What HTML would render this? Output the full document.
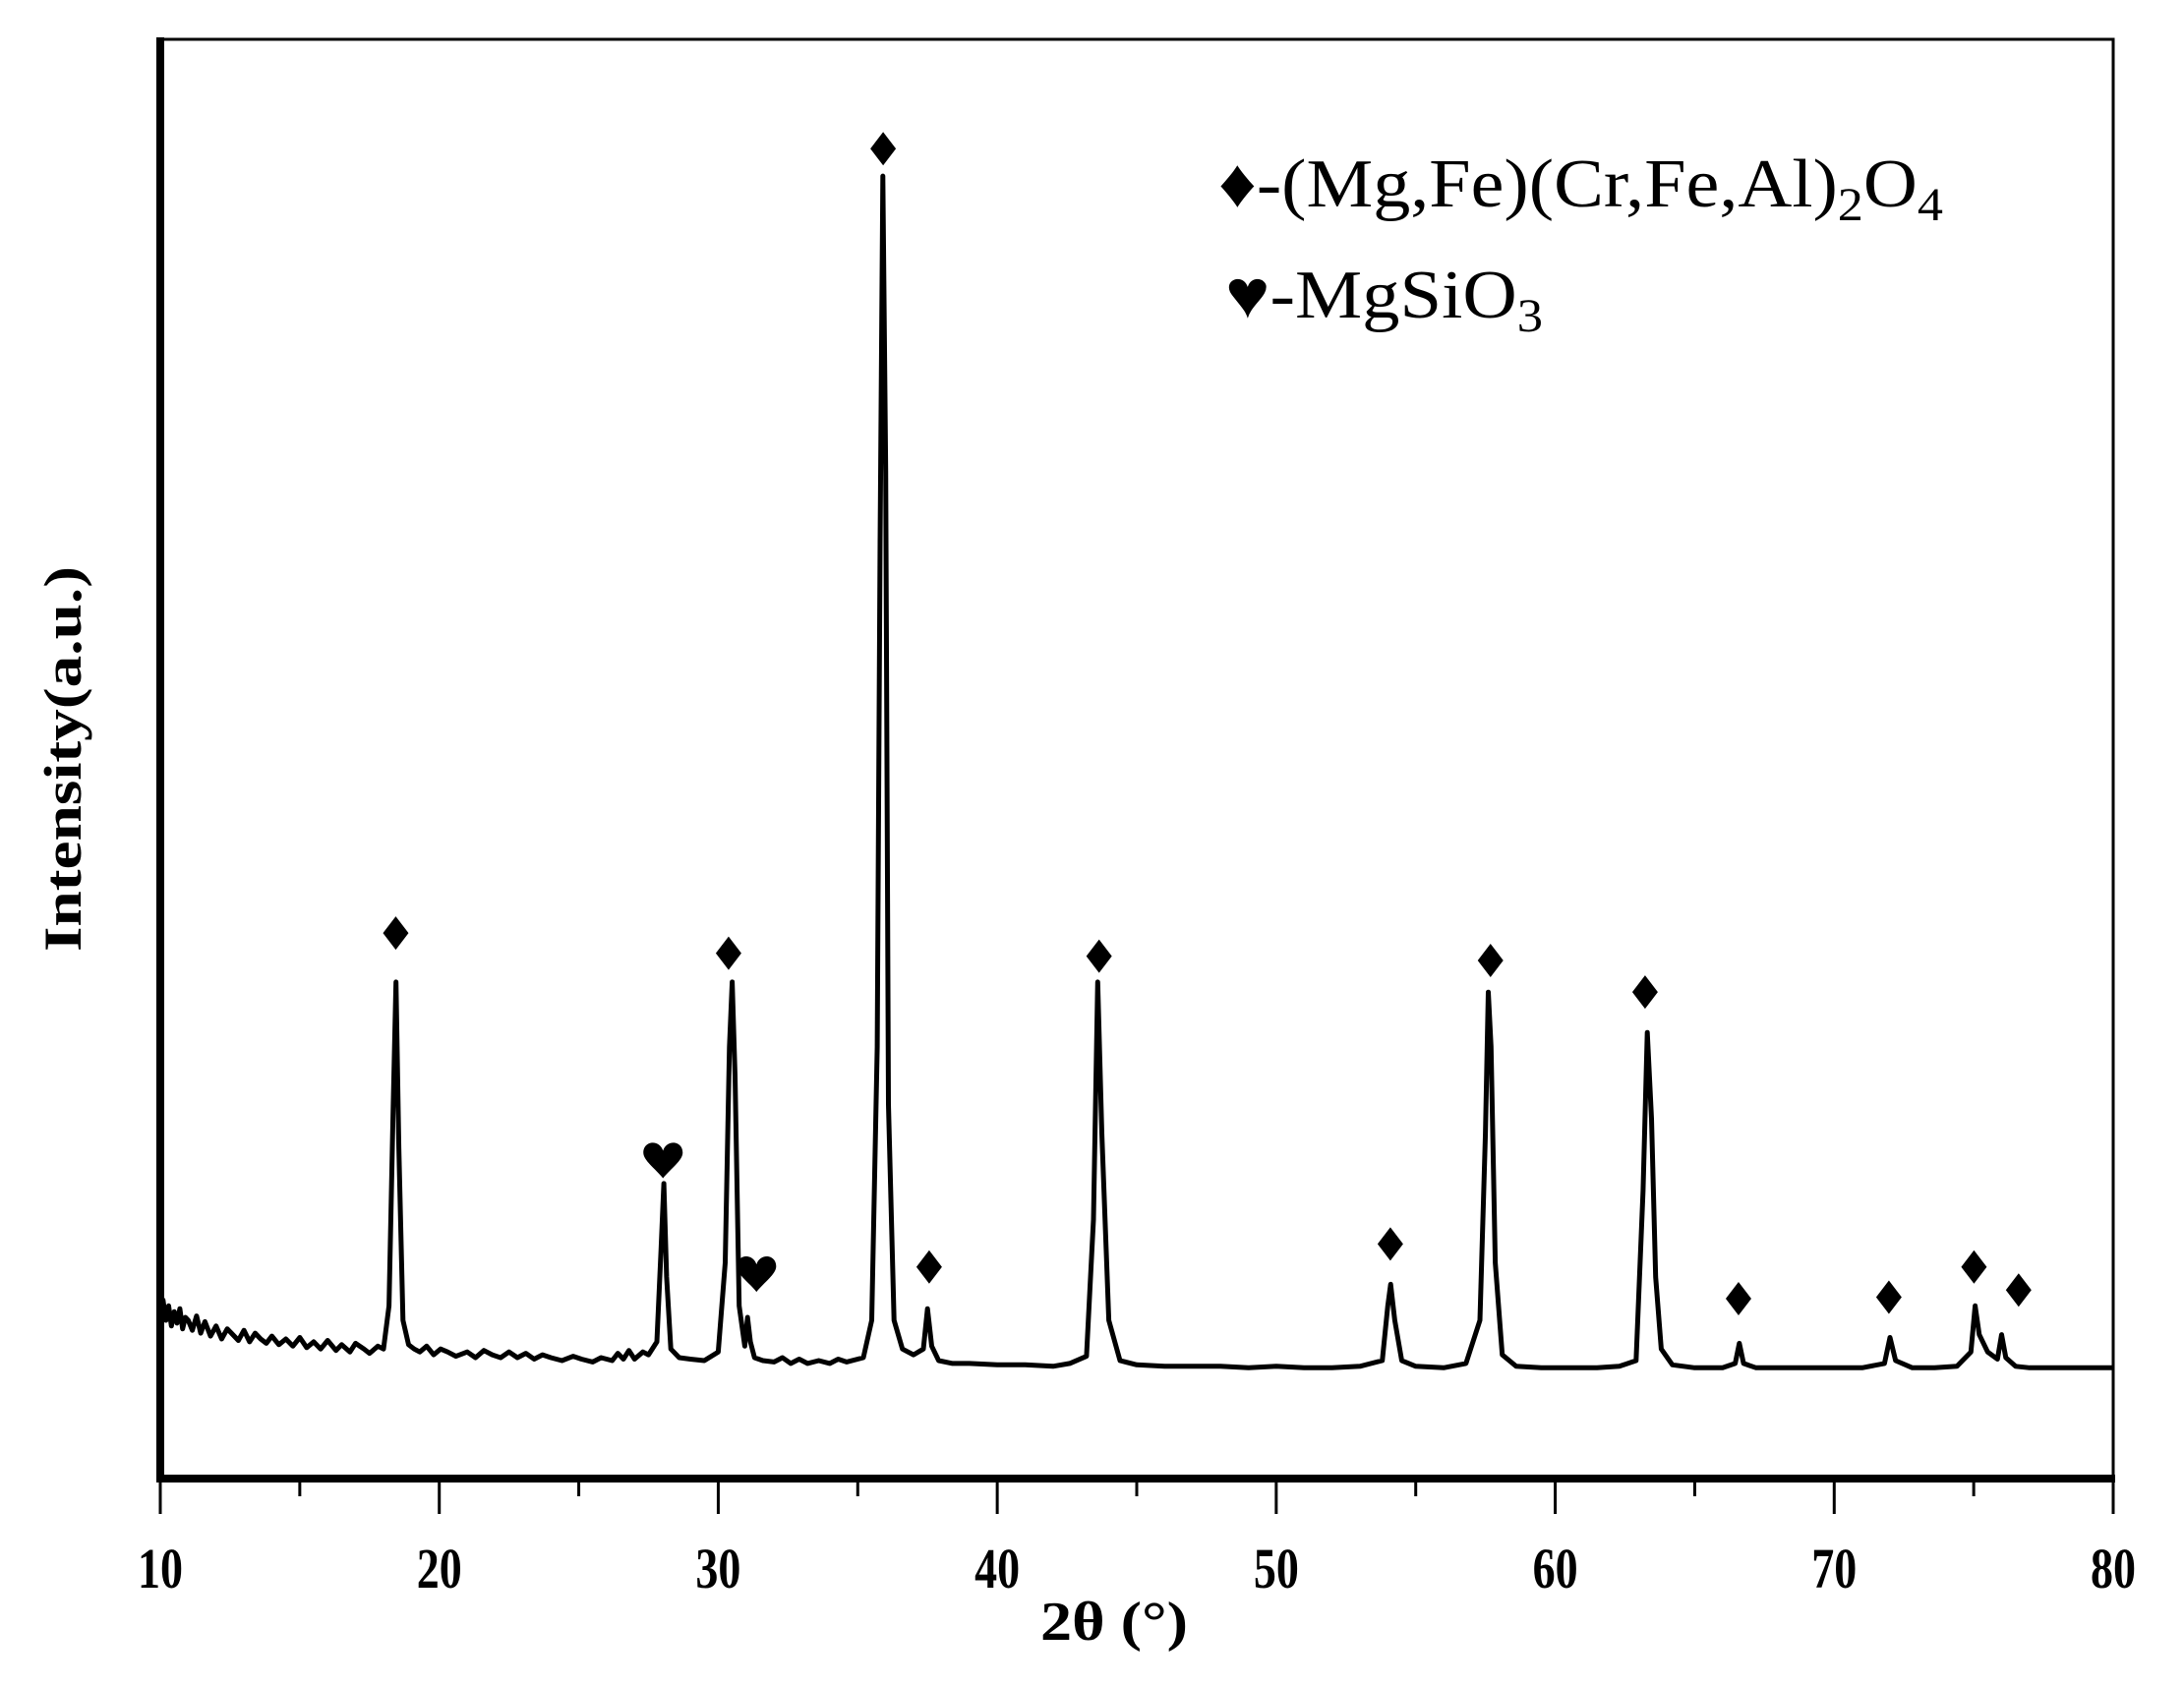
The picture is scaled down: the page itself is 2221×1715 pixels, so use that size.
<!DOCTYPE html>
<html><head><meta charset="utf-8"><style>html,body{margin:0;padding:0;background:#fff}svg{display:block}</style></head>
<body>
<svg id="chart" width="2221" height="1715" viewBox="0 0 2221 1715" xmlns="http://www.w3.org/2000/svg" font-family="Liberation Serif, serif">
<g id="plot"></g>
<g id="axes"></g>
<g id="marks"></g>
<text transform="translate(82,772) rotate(-90)" text-anchor="middle" font-size="54" font-weight="bold" textLength="392" lengthAdjust="spacingAndGlyphs">Intensity(a.u.)</text>
<text x="1133" y="1668" text-anchor="middle" font-size="56" font-weight="bold" textLength="150" lengthAdjust="spacingAndGlyphs">2θ (°)</text>
<g>
<text x="1239" y="210" font-size="70" textLength="737" lengthAdjust="spacingAndGlyphs">♦-(Mg,Fe)(Cr,Fe,Al)<tspan font-size="48" dy="14">2</tspan><tspan dy="-14">O</tspan><tspan font-size="48" dy="14">4</tspan></text>
<text x="1246" y="323" font-size="70" textLength="323" lengthAdjust="spacingAndGlyphs">♥-MgSiO<tspan font-size="48" dy="14">3</tspan></text>
</g>
</svg>
<script>
const xTicks=[10,20,30,40,50,60,70,80];
const traceX=[
10,10.1,10.2,10.3,10.4,10.5,10.6,10.7,10.8,10.9,
11,11.15,11.3,11.45,11.6,11.8,12,12.2,12.4,12.6,
12.8,13,13.2,13.4,13.6,13.8,14,14.25,14.5,14.75,
15,15.25,15.5,15.75,16,16.3,16.5,16.8,17,17.3,
17.5,17.8,18,18.2,18.35,18.45,18.55,18.7,18.9,19.1,
19.3,19.55,19.8,20.05,20.3,20.6,21,21.3,21.6,21.9,
22.2,22.5,22.8,23.1,23.4,23.7,24,24.4,24.8,25.1,
25.5,25.8,26.2,26.4,26.6,26.8,27,27.3,27.5,27.8,
27.95,28.05,28.15,28.3,28.6,29,29.5,30,30.25,30.4,
30.5,30.6,30.75,30.95,31.05,31.15,31.3,31.6,32,32.3,
32.6,32.9,33.2,33.6,34,34.3,34.6,35.2,35.5,35.7,
35.8,35.9,36.0,36.1,36.3,36.6,37,37.35,37.5,37.65,
37.9,38.4,39,40,41,42,42.6,43.2,43.45,43.6,
43.75,44,44.4,45,46,47,48,49,50,51,
52,53,53.8,54.0,54.1,54.25,54.5,55,56,56.8,
57.3,57.5,57.6,57.7,57.85,58.1,58.6,59.5,60.5,61.5,
62.3,62.9,63.15,63.3,63.45,63.6,63.8,64.2,65,66,
66.45,66.6,66.75,67.2,68,69,70,71,71.8,72,
72.2,72.8,73.6,74.4,74.9,75.05,75.2,75.5,75.85,76.0,
76.15,76.5,77,78,79,80];
const traceI=[
113,124,110,120,106,116,108,118,104,112,
110,103,113,101,109,99,106,97,104,100,
96,103,95,101,97,94,99,93,97,92,
98,91,95,90,96,89,93,88,94,90,
87,92,90,120,260,345,230,110,93,90,
88,92,86,90,88,85,88,84,89,86,
84,88,84,87,83,86,84,82,85,83,
81,84,82,87,83,89,83,88,86,95,
160,205,140,90,84,83,82,88,150,300,
345,280,120,92,112,95,84,82,81,84,
80,83,80,82,80,83,81,84,110,300,
650,905,700,260,110,90,86,90,118,92,
82,80,80,79,79,78,80,85,180,345,
240,110,82,79,78,78,78,77,78,77,
77,78,82,120,135,110,82,78,77,80,
110,240,338,300,150,86,78,77,77,77,
78,82,200,310,250,140,90,79,77,77,
80,94,80,77,77,77,77,77,80,98,
82,77,77,78,88,120,100,88,83,100,
84,78,77,77,77,77];
const diamondX=[18.44,30.37,35.91,37.56,43.65,54.09,57.68,63.22,66.57,71.96,75.01,76.61];
const diamondI=[379,365,924,147,363,163,360,338,125,126,147,131];
const heartX=[28.02,31.37];
const heartI=[221,142];

const L=163,R=2149,T=40,B=1504;
const xs=v=>L+(v-10)/70*(R-L);
const ys=v=>B-v/1000*(B-T);
const NS="http://www.w3.org/2000/svg";
function mk(tag,parent,attrs){const e=document.createElementNS(NS,tag);for(const k in attrs)e.setAttribute(k,attrs[k]);parent.appendChild(e);return e;}
const plot=document.getElementById('plot'),axes=document.getElementById('axes'),marks=document.getElementById('marks');

let d=traceX.map((x,i)=>(i?'L':'M')+xs(x).toFixed(1)+','+ys(traceI[i]).toFixed(1)).join('');
const line=mk('path',plot,{d:d,fill:'none',stroke:'#000','stroke-width':5,'stroke-linejoin':'round'});



const frame=mk('rect',axes,{x:L,y:T,width:R-L,height:B-T,fill:'none',stroke:'#000','stroke-width':3});


const xa=mk('line',axes,{x1:L-4,x2:R+2,y1:B,y2:B,stroke:'#000','stroke-width':8});


const ya=mk('line',axes,{x1:L,x2:L,y1:T-2,y2:B+4,stroke:'#000','stroke-width':8});


for(let v=10;v<=80;v+=5){
  const major=(v%10===0);
  const t=mk('line',axes,{x1:xs(v),x2:xs(v),y1:B,y2:B+(major?36:18),stroke:'#000','stroke-width':3});
  
  
}
xTicks.forEach(v=>{
  const t=mk('text',axes,{x:xs(v),y:1615,'text-anchor':'middle','font-size':58,'font-weight':'bold',textLength:46,lengthAdjust:'spacingAndGlyphs'});
  t.textContent=v;
  
  
});
diamondX.forEach((x,i)=>{
  const cx=xs(x),cy=ys(diamondI[i]);
  const p=mk('path',marks,{d:`M${cx},${cy-17}L${cx+13},${cy}L${cx},${cy+17}L${cx-13},${cy}Z`,fill:'#000'});
  
  
});
heartX.forEach((x,i)=>{
  const cx=xs(x),cy=ys(heartI[i]);
  const p=mk('path',marks,{d:`M${cx},${cy+18}C${cx-8},${cy+8} ${cx-20},${cy} ${cx-20},${cy-8}C${cx-20},${cy-20} ${cx-4},${cy-22} ${cx},${cy-10}C${cx+4},${cy-22} ${cx+20},${cy-20} ${cx+20},${cy-8}C${cx+20},${cy} ${cx+8},${cy+8} ${cx},${cy+18}Z`,fill:'#000'});
  
  
});
</script>
</body></html>
